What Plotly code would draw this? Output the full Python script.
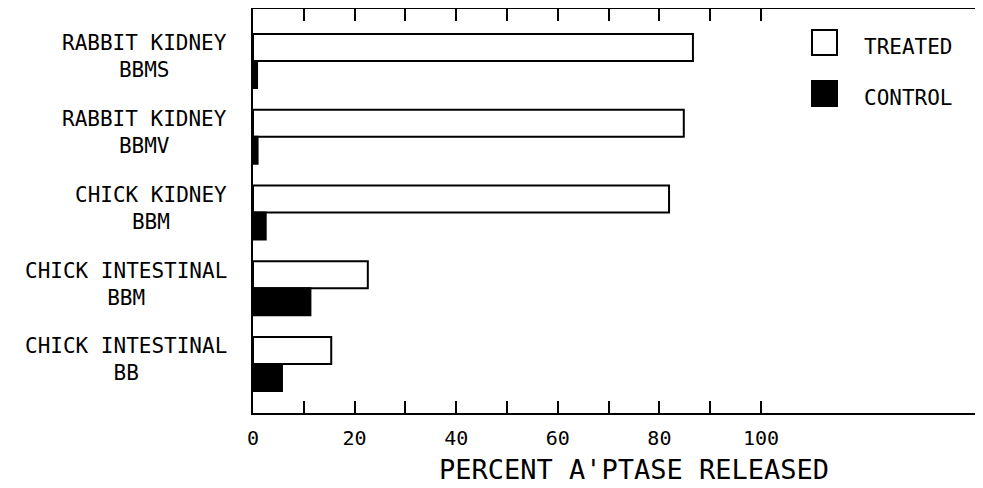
import plotly.graph_objects as go

categories = ["RABBIT KIDNEY<br>BBMS", "RABBIT KIDNEY<br>BBMV", "CHICK KIDNEY<br>BBM",
              "CHICK INTESTINAL<br>BBM", "CHICK INTESTINAL<br>BB"]
treated = [86.6, 84.8, 81.9, 22.6, 15.4]
control = [0.8, 0.9, 2.5, 11.3, 5.7]
tick_vals = [0, 10, 20, 30, 40, 50, 60, 70, 80, 90, 100]
tick_text = ["0", "", "20", "", "40", "", "60", "", "80", "", "100"]
series_names = ["TREATED", "CONTROL"]
x_title = "PERCENT A'PTASE RELEASED"

FONT = "DejaVu Sans Mono"
ypos = list(range(len(categories)))

fig = go.Figure()
fig.add_trace(go.Bar(y=ypos, x=treated, orientation="h", name=series_names[0],
                     marker=dict(color="white", line=dict(color="black", width=2))))
fig.add_trace(go.Bar(y=ypos, x=control, orientation="h", name=series_names[1],
                     marker=dict(color="black", line=dict(color="black", width=2))))

OFF = 8  # page body margin
W, H = 983 - OFF, 488 - OFF
L, R, T = 253 - OFF, 0, 9 - OFF
B = H - (413 - OFF)
pw = W - L - R
ph = H - T - B

fig.update_layout(
    width=W, height=H,
    margin=dict(l=L, r=R, t=T, b=B),
    paper_bgcolor="white", plot_bgcolor="white",
    barmode="group", bargap=0.287, bargroupgap=0,
    showlegend=False,
    font=dict(family=FONT, color="black"),
    xaxis=dict(range=[0, 143.7], tickvals=tick_vals, ticktext=tick_text,
               ticks="inside", ticklen=12, tickwidth=2, tickcolor="black",
               showline=True, linewidth=2, linecolor="black", mirror="ticks",
               showgrid=False, zeroline=False,
               tickfont=dict(size=20, family=FONT), ticklabelstandoff=6),
    yaxis=dict(range=[4.647, -0.686], showticklabels=False, ticks="",
               showline=True, linewidth=2, linecolor="black",
               showgrid=False, zeroline=False),
)

def px2x(p):
    return (p - OFF - L) / pw

def px2y(p):
    return (H - B - (p - OFF)) / ph

# x-axis title
fig.add_annotation(x=px2x(634), xref="paper", xanchor="center",
                   y=px2y(469), yref="paper", yanchor="middle",
                   text=x_title, showarrow=False,
                   font=dict(size=27, family=FONT, color="black"))

for i, c in enumerate(categories):
    fig.add_annotation(x=px2x(229), xref="paper", xanchor="right",
                       y=i, yref="y", yanchor="middle", yshift=4,
                       text=c, showarrow=False, align="center",
                       font=dict(size=21, family=FONT, color="black"))

legend_items = [(series_names[0], "white", 30, 55, 47),
                (series_names[1], "black", 81, 106, 98)]
for name, fill, y0, y1, yc in legend_items:
    fig.add_shape(type="rect", xref="paper", yref="paper",
                  x0=px2x(812), x1=px2x(837), y0=px2y(y1), y1=px2y(y0),
                  fillcolor=fill, line=dict(color="black", width=2))
    fig.add_annotation(x=px2x(862), xref="paper", xanchor="left",
                       y=px2y(yc), yref="paper", yanchor="middle",
                       text=name, showarrow=False,
                       font=dict(size=21, family=FONT, color="black"))

fig.write_html("out.html")
